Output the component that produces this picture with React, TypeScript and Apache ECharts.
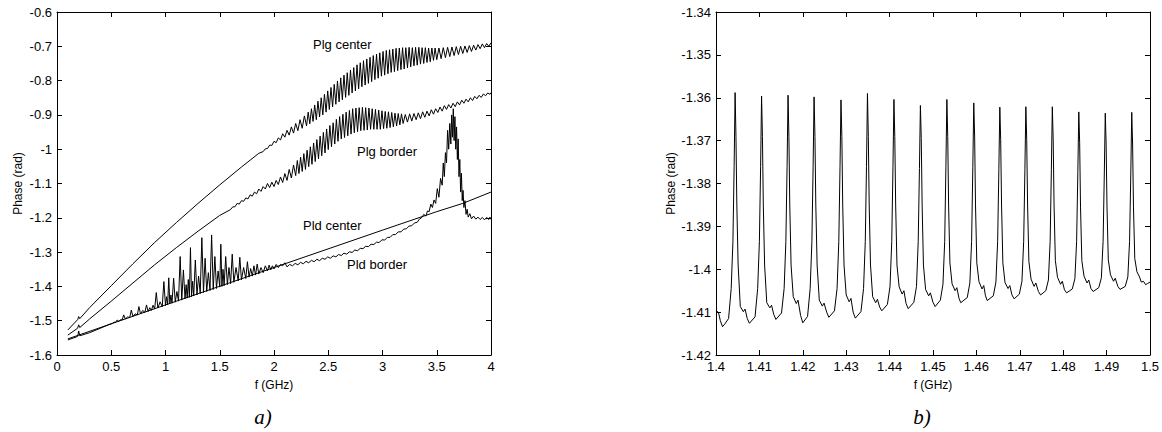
import React, { useEffect, useRef } from "react";
import * as echarts from "echarts";

const FONT = 'Arial, "Liberation Sans", Helvetica, sans-serif';

// ---------- panel a) : f (GHz) vs Phase (rad) ----------
// smooth parts [f, phase]
const plgCenterSmooth: number[][] = [
  [0.10, -1.527], [0.19, -1.497], [0.20, -1.488], [0.21, -1.494], [0.30, -1.462],
  [0.50, -1.398], [0.70, -1.334], [0.90, -1.272], [1.10, -1.214], [1.30, -1.158],
  [1.50, -1.104], [1.70, -1.052], [1.86, -1.012],
];
// oscillating parts [f, low, high]
const plgCenterOsc: number[][] = [
  [1.90, -1.007, -0.999], [1.94, -0.998, -0.988], [1.98, -0.989, -0.977], [2.02, -0.981, -0.967],
  [2.06, -0.973, -0.955], [2.10, -0.965, -0.945], [2.14, -0.959, -0.935], [2.18, -0.953, -0.925],
  [2.22, -0.946, -0.914], [2.26, -0.939, -0.903], [2.30, -0.932, -0.892], [2.33, -0.926, -0.882],
  [2.36, -0.919, -0.871], [2.39, -0.914, -0.860], [2.42, -0.906, -0.850], [2.45, -0.900, -0.840],
  [2.48, -0.892, -0.830], [2.51, -0.884, -0.820], [2.54, -0.877, -0.811], [2.57, -0.869, -0.801],
  [2.60, -0.862, -0.792], [2.63, -0.856, -0.784], [2.66, -0.849, -0.777], [2.69, -0.843, -0.769],
  [2.72, -0.836, -0.762], [2.75, -0.830, -0.754], [2.78, -0.824, -0.748], [2.81, -0.818, -0.742],
  [2.84, -0.813, -0.737], [2.87, -0.808, -0.732], [2.90, -0.803, -0.727], [2.93, -0.797, -0.723],
  [2.96, -0.793, -0.719], [2.99, -0.787, -0.715], [3.02, -0.784, -0.712], [3.05, -0.780, -0.710],
  [3.08, -0.776, -0.708], [3.11, -0.774, -0.706], [3.14, -0.771, -0.705], [3.17, -0.768, -0.704],
  [3.20, -0.766, -0.704], [3.23, -0.763, -0.703], [3.26, -0.760, -0.704], [3.29, -0.757, -0.703],
  [3.32, -0.755, -0.703], [3.35, -0.752, -0.704], [3.38, -0.750, -0.704], [3.41, -0.747, -0.705],
  [3.44, -0.745, -0.705], [3.47, -0.741, -0.705], [3.50, -0.739, -0.705], [3.54, -0.736, -0.704],
  [3.58, -0.733, -0.703], [3.62, -0.730, -0.702], [3.66, -0.727, -0.701], [3.70, -0.724, -0.700],
  [3.74, -0.721, -0.699], [3.78, -0.718, -0.698], [3.82, -0.715, -0.697], [3.86, -0.711, -0.695],
  [3.90, -0.707, -0.693], [3.94, -0.704, -0.692], [3.98, -0.700, -0.690],
];

const plgBorderSmooth: number[][] = [
  [0.10, -1.542], [0.19, -1.522], [0.20, -1.512], [0.21, -1.520], [0.30, -1.495],
  [0.50, -1.443], [0.70, -1.390], [0.90, -1.337], [1.10, -1.287], [1.30, -1.239], [1.50, -1.193],
];
const plgBorderOsc: number[][] = [
  [1.60, -1.176, -1.168], [1.64, -1.168, -1.158], [1.68, -1.160, -1.150], [1.72, -1.152, -1.142],
  [1.76, -1.145, -1.133], [1.80, -1.137, -1.125], [1.84, -1.130, -1.116], [1.88, -1.123, -1.109],
  [1.92, -1.116, -1.100], [1.96, -1.112, -1.096], [2.00, -1.109, -1.091], [2.04, -1.103, -1.081],
  [2.08, -1.097, -1.071], [2.12, -1.091, -1.059], [2.16, -1.084, -1.046], [2.20, -1.077, -1.033],
  [2.23, -1.071, -1.023], [2.26, -1.065, -1.013], [2.29, -1.059, -1.003], [2.32, -1.051, -0.993],
  [2.35, -1.044, -0.982], [2.38, -1.036, -0.972], [2.41, -1.028, -0.962], [2.44, -1.019, -0.951],
  [2.47, -1.011, -0.941], [2.50, -1.001, -0.931], [2.53, -0.993, -0.923], [2.56, -0.985, -0.913],
  [2.59, -0.977, -0.905], [2.62, -0.970, -0.898], [2.65, -0.966, -0.892], [2.68, -0.961, -0.887],
  [2.71, -0.956, -0.882], [2.74, -0.952, -0.880], [2.77, -0.949, -0.879], [2.80, -0.946, -0.878],
  [2.83, -0.945, -0.879], [2.86, -0.944, -0.880], [2.89, -0.942, -0.882], [2.92, -0.942, -0.884],
  [2.95, -0.942, -0.886], [2.98, -0.942, -0.888], [3.01, -0.940, -0.890], [3.04, -0.939, -0.891],
  [3.07, -0.937, -0.893], [3.10, -0.935, -0.895], [3.13, -0.932, -0.896], [3.16, -0.929, -0.897],
  [3.19, -0.925, -0.899], [3.23, -0.921, -0.897], [3.27, -0.918, -0.896], [3.31, -0.914, -0.894],
  [3.35, -0.911, -0.891], [3.39, -0.907, -0.889], [3.43, -0.903, -0.885], [3.47, -0.898, -0.882],
  [3.51, -0.893, -0.877], [3.55, -0.889, -0.873], [3.59, -0.884, -0.870], [3.63, -0.880, -0.866],
  [3.67, -0.876, -0.862], [3.71, -0.871, -0.857], [3.75, -0.866, -0.854], [3.79, -0.862, -0.850],
  [3.83, -0.858, -0.846], [3.87, -0.853, -0.843], [3.91, -0.849, -0.839], [3.95, -0.844, -0.836],
  [3.99, -0.840, -0.832],
];

const pldCenter: number[][] = [
  [0.10, -1.553], [1.00, -1.454], [2.00, -1.345], [3.00, -1.236], [3.50, -1.182], [3.74, -1.158], [4.00, -1.125],
];

const pldBorderSmooth: number[][] = [
  [0.10, -1.556], [0.19, -1.546], [0.20, -1.530], [0.21, -1.544], [0.30, -1.535], [0.40, -1.522], [0.48, -1.511],
];
const pldBorderOsc: number[][] = [
  [0.51, -1.508, -1.504], [0.54, -1.505, -1.498], [0.57, -1.502, -1.497], [0.60, -1.498, -1.483],
  [0.63, -1.495, -1.489], [0.67, -1.491, -1.469], [0.70, -1.488, -1.480], [0.74, -1.483, -1.459],
  [0.77, -1.480, -1.470], [0.81, -1.476, -1.454], [0.84, -1.473, -1.462], [0.87, -1.470, -1.455],
  [0.90, -1.466, -1.418], [0.93, -1.463, -1.445], [0.97, -1.459, -1.386], [1.00, -1.456, -1.430],
  [1.02, -1.454, -1.375], [1.04, -1.451, -1.425], [1.06, -1.449, -1.376], [1.09, -1.446, -1.415],
  [1.12, -1.443, -1.313], [1.15, -1.440, -1.352], [1.18, -1.436, -1.395], [1.20, -1.434, -1.380],
  [1.22, -1.432, -1.287], [1.24, -1.430, -1.385], [1.26, -1.428, -1.323], [1.29, -1.425, -1.370],
  [1.32, -1.421, -1.258], [1.35, -1.418, -1.318], [1.38, -1.415, -1.360], [1.41, -1.412, -1.250],
  [1.44, -1.409, -1.313], [1.47, -1.406, -1.355], [1.50, -1.402, -1.277], [1.52, -1.400, -1.350],
  [1.54, -1.398, -1.313], [1.57, -1.395, -1.345], [1.60, -1.392, -1.306], [1.63, -1.388, -1.345],
  [1.67, -1.384, -1.315], [1.70, -1.381, -1.345], [1.74, -1.377, -1.328], [1.77, -1.373, -1.348],
  [1.80, -1.370, -1.340], [1.83, -1.367, -1.335], [1.86, -1.364, -1.345], [1.90, -1.360, -1.340],
  [1.94, -1.355, -1.338], [1.97, -1.352, -1.340], [2.00, -1.349, -1.336], [2.04, -1.345, -1.336],
  [2.08, -1.340, -1.331], [2.12, -1.343, -1.336], [2.17, -1.340, -1.333], [2.22, -1.337, -1.330],
  [2.27, -1.334, -1.327], [2.32, -1.331, -1.324], [2.37, -1.328, -1.321], [2.42, -1.325, -1.318],
  [2.47, -1.321, -1.314], [2.52, -1.318, -1.311], [2.57, -1.314, -1.307], [2.62, -1.310, -1.303],
  [2.67, -1.306, -1.299], [2.72, -1.301, -1.294], [2.77, -1.296, -1.289], [2.82, -1.290, -1.283],
  [2.87, -1.284, -1.277], [2.92, -1.278, -1.271], [2.97, -1.272, -1.264], [3.02, -1.265, -1.257],
  [3.07, -1.257, -1.249], [3.12, -1.249, -1.241], [3.17, -1.241, -1.233], [3.22, -1.232, -1.224],
  [3.27, -1.223, -1.215], [3.32, -1.213, -1.204], [3.36, -1.200, -1.190], [3.40, -1.195, -1.180],
  [3.43, -1.182, -1.160], [3.46, -1.170, -1.148], [3.49, -1.158, -1.115], [3.52, -1.140, -1.085],
  [3.55, -1.105, -1.040], [3.57, -1.080, -1.010], [3.59, -1.040, -0.945], [3.61, -1.000, -0.925],
  [3.63, -0.985, -0.900], [3.645, -0.965, -0.882], [3.66, -0.975, -0.905], [3.675, -1.000, -0.935],
  [3.69, -1.030, -0.970], [3.705, -1.080, -1.030], [3.72, -1.125, -1.070], [3.735, -1.150, -1.120],
  [3.75, -1.170, -1.150], [3.77, -1.190, -1.175], [3.79, -1.198, -1.188], [3.82, -1.203, -1.195],
  [3.86, -1.204, -1.198], [3.90, -1.205, -1.199], [3.94, -1.206, -1.199], [3.98, -1.205, -1.198],
  [4.00, -1.204, -1.200],
];

// ---------- panel b) : zoom 1.4 - 1.5 GHz ----------
const zoomTrace: number[][] = [
  [1.4000, -1.4095], [1.4006, -1.4102], [1.4010, -1.4120], [1.4015, -1.4134], [1.4020, -1.4128],
  [1.4029, -1.4115], [1.4035, -1.4045], [1.4039, -1.3935], [1.40418, -1.3760], [1.4044, -1.3588], [1.4046, -1.3690], [1.4048, -1.3850], [1.4051, -1.3990], [1.4056, -1.4087], [1.4063, -1.4099], [1.4067, -1.4093], [1.4072, -1.4115], [1.4077, -1.4126],
  [1.4090, -1.4111], [1.4096, -1.4045], [1.4100, -1.3935], [1.41028, -1.3760], [1.4105, -1.3596], [1.4107, -1.3690], [1.4109, -1.3850], [1.4112, -1.3990], [1.4117, -1.4078], [1.4124, -1.4090], [1.4128, -1.4084], [1.4133, -1.4105], [1.4138, -1.4117],
  [1.4151, -1.4102], [1.4157, -1.4045], [1.4161, -1.3935], [1.41638, -1.3760], [1.4166, -1.3594], [1.4168, -1.3690], [1.4170, -1.3850], [1.4173, -1.3990], [1.4178, -1.4064], [1.4185, -1.4080], [1.4189, -1.4072], [1.4195, -1.4108], [1.4200, -1.4125],
  [1.4211, -1.4110], [1.4217, -1.4045], [1.4221, -1.3935], [1.42238, -1.3760], [1.4226, -1.3598], [1.4228, -1.3690], [1.4230, -1.3850], [1.4233, -1.3990], [1.4238, -1.4072], [1.4245, -1.4086], [1.4249, -1.4079], [1.4255, -1.4100], [1.4260, -1.4112],
  [1.4273, -1.4097], [1.4279, -1.4045], [1.4283, -1.3935], [1.42858, -1.3760], [1.4288, -1.3605], [1.4290, -1.3690], [1.4292, -1.3850], [1.4295, -1.3990], [1.4300, -1.4060], [1.4307, -1.4076], [1.4311, -1.4068], [1.4316, -1.4100], [1.4321, -1.4114],
  [1.4334, -1.4099], [1.4340, -1.4045], [1.4344, -1.3935], [1.43468, -1.3760], [1.4349, -1.3590], [1.4351, -1.3690], [1.4353, -1.3850], [1.4356, -1.3990], [1.4361, -1.4064], [1.4368, -1.4078], [1.4372, -1.4070], [1.4377, -1.4088], [1.4382, -1.4097],
  [1.4395, -1.4082], [1.4401, -1.4040], [1.4405, -1.3935], [1.44078, -1.3760], [1.4410, -1.3604], [1.4412, -1.3690], [1.4414, -1.3850], [1.4417, -1.3990], [1.4422, -1.4041], [1.4429, -1.4058], [1.4433, -1.4050], [1.4438, -1.4080], [1.4443, -1.4092],
  [1.4456, -1.4077], [1.4462, -1.4040], [1.4466, -1.3935], [1.44688, -1.3765], [1.4471, -1.3618], [1.4473, -1.3695], [1.4475, -1.3850], [1.4478, -1.3990], [1.4483, -1.4047], [1.4490, -1.4062], [1.4494, -1.4055], [1.4500, -1.4077], [1.4505, -1.4087],
  [1.4517, -1.4072], [1.4523, -1.4035], [1.4527, -1.3935], [1.45298, -1.3760], [1.4532, -1.3604], [1.4534, -1.3690], [1.4536, -1.3850], [1.4539, -1.3985], [1.4544, -1.4034], [1.4551, -1.4050], [1.4555, -1.4043], [1.4560, -1.4068], [1.4564, -1.4078],
  [1.4579, -1.4066], [1.4585, -1.4032], [1.4589, -1.3935], [1.45918, -1.3762], [1.4594, -1.3612], [1.4596, -1.3692], [1.4598, -1.3850], [1.4601, -1.3985], [1.4606, -1.4029], [1.4613, -1.4046], [1.4617, -1.4038], [1.4621, -1.4062], [1.4625, -1.4073],
  [1.4639, -1.4062], [1.4645, -1.4030], [1.4649, -1.3935], [1.46518, -1.3768], [1.4654, -1.3622], [1.4656, -1.3698], [1.4658, -1.3850], [1.4661, -1.3985], [1.4666, -1.4031], [1.4673, -1.4045], [1.4677, -1.4038], [1.4682, -1.4060], [1.4687, -1.4069],
  [1.4699, -1.4058], [1.4705, -1.4028], [1.4709, -1.3935], [1.47118, -1.3768], [1.4714, -1.3621], [1.4716, -1.3698], [1.4718, -1.3850], [1.4721, -1.3982], [1.4726, -1.4023], [1.4733, -1.4040], [1.4737, -1.4032], [1.4743, -1.4052], [1.4748, -1.4060],
  [1.4760, -1.4050], [1.4766, -1.4025], [1.4770, -1.3935], [1.47728, -1.3768], [1.4775, -1.3621], [1.4777, -1.3698], [1.4779, -1.3850], [1.4782, -1.3980], [1.4787, -1.4019], [1.4794, -1.4035], [1.4798, -1.4028], [1.4803, -1.4048], [1.4808, -1.4055],
  [1.4821, -1.4046], [1.4827, -1.4022], [1.4831, -1.3935], [1.48338, -1.3775], [1.4836, -1.3633], [1.4838, -1.3705], [1.4840, -1.3855], [1.4843, -1.3980], [1.4848, -1.4016], [1.4855, -1.4032], [1.4859, -1.4025], [1.4864, -1.4045], [1.4869, -1.4052],
  [1.4882, -1.4043], [1.4888, -1.4020], [1.4892, -1.3935], [1.48948, -1.3778], [1.4897, -1.3636], [1.4899, -1.3708], [1.4901, -1.3855], [1.4904, -1.3978], [1.4909, -1.4013], [1.4916, -1.4028], [1.4920, -1.4021], [1.4926, -1.4040], [1.4931, -1.4047],
  [1.4943, -1.4040], [1.4949, -1.4018], [1.4953, -1.3935], [1.49558, -1.3778], [1.4958, -1.3634], [1.4960, -1.3708], [1.4962, -1.3855], [1.4965, -1.3975], [1.4970, -1.4006], [1.4976, -1.4018], [1.4980, -1.4030], [1.4985, -1.4028], [1.4990, -1.4036], [1.4995, -1.4033], [1.5000, -1.4030],
];

const curveLabels = ["Plg center", "Plg border", "Pld center", "Pld border"];
const panelLabels = ["a)", "b)"];
const axisNames = { x: "f (GHz)", y: "Phase (rad)" };

// each oscillation entry [f, low, high]: low is drawn at f, the high half-way to the next entry
function withOsc(smooth: number[][], osc: number[][]): number[][] {
  const out: number[][] = smooth.map((p) => [p[0], p[1]]);
  osc.forEach(([f, lo, hi], i) => {
    const next = i + 1 < osc.length ? osc[i + 1][0] : f + (f - osc[i - 1][0]);
    out.push([f, lo]);
    out.push([f + (next - f) / 2, hi]);
  });
  return out;
}

const axisLineStyle = { onZero: false, lineStyle: { color: "#000", width: 1 } };
const tickStyle = { inside: true, length: 5, lineStyle: { color: "#000", width: 1 } };
const labelStyle = { fontSize: 13, color: "#000", fontFamily: FONT };

function xAxes(grid: number, min: number, max: number, interval: number) {
  return [
    {
      type: "value", gridIndex: grid, min, max, interval, position: "bottom",
      name: axisNames.x, nameLocation: "middle", nameGap: 24,
      nameTextStyle: { fontSize: 12, color: "#000", fontFamily: FONT },
      axisLine: axisLineStyle, axisTick: tickStyle,
      axisLabel: { ...labelStyle, margin: 5 }, splitLine: { show: false },
    },
    {
      type: "value", gridIndex: grid, min, max, interval, position: "top",
      axisLine: axisLineStyle, axisTick: tickStyle,
      axisLabel: { show: false }, splitLine: { show: false },
    },
  ];
}

function yAxes(grid: number, min: number, max: number, interval: number, gap: number) {
  return [
    {
      type: "value", gridIndex: grid, min, max, interval, position: "left",
      name: axisNames.y, nameLocation: "middle", nameRotate: 90, nameGap: gap,
      nameTextStyle: { fontSize: 12, color: "#000", fontFamily: FONT },
      axisLine: axisLineStyle, axisTick: tickStyle,
      axisLabel: { ...labelStyle, margin: 5 }, splitLine: { show: false },
    },
    {
      type: "value", gridIndex: grid, min, max, interval, position: "right",
      axisLine: axisLineStyle, axisTick: tickStyle,
      axisLabel: { show: false }, splitLine: { show: false },
    },
  ];
}

function lineSeries(data: number[][], xi: number, yi: number) {
  return {
    type: "line", xAxisIndex: xi, yAxisIndex: yi, data,
    showSymbol: false, symbol: "none", silent: true,
    lineStyle: { color: "#000", width: 1 },
  };
}

function textEl(text: string, x: number, y: number, font: string, align = "left") {
  return {
    type: "text", x, y, silent: true,
    style: { text, font, fill: "#000", align, verticalAlign: "middle" },
  };
}

export default function App() {
  const ref = useRef<HTMLDivElement>(null);
  useEffect(() => {
    if (!ref.current) return;
    const chart = echarts.init(ref.current, undefined, { renderer: "svg" });
    const annFont = `13px ${FONT}`;
    const panelFont = 'italic 21px "Liberation Serif", "Times New Roman", serif';
    chart.setOption({
      animation: false,
      backgroundColor: "#fff",
      grid: [
        { left: 57, top: 12, width: 434, height: 343 },
        { left: 716, top: 12, width: 434, height: 343 },
      ],
      xAxis: [...xAxes(0, 0, 4, 0.5), ...xAxes(1, 1.4, 1.5, 0.01)],
      yAxis: [...yAxes(0, -1.6, -0.6, 0.1, 33), ...yAxes(1, -1.42, -1.34, 0.01, 39)],
      series: [
        lineSeries(withOsc(plgCenterSmooth, plgCenterOsc), 0, 0),
        lineSeries(withOsc(plgBorderSmooth, plgBorderOsc), 0, 0),
        lineSeries(pldCenter, 0, 0),
        lineSeries(withOsc(pldBorderSmooth, pldBorderOsc), 0, 0),
        lineSeries(zoomTrace, 2, 2),
      ],
      graphic: [
        textEl(curveLabels[0], 313, 44, annFont),
        textEl(curveLabels[1], 357, 151, annFont),
        textEl(curveLabels[2], 303, 225, annFont),
        textEl(curveLabels[3], 347, 264, annFont),
        textEl(panelLabels[0], 263, 417, panelFont, "center"),
        textEl(panelLabels[1], 922, 417, panelFont, "center"),
      ],
    });
    return () => chart.dispose();
  }, []);
  return (
    <div
      ref={ref}
      style={{ position: "fixed", left: 0, top: 0, width: 1162, height: 432, background: "#fff" }}
    />
  );
}
